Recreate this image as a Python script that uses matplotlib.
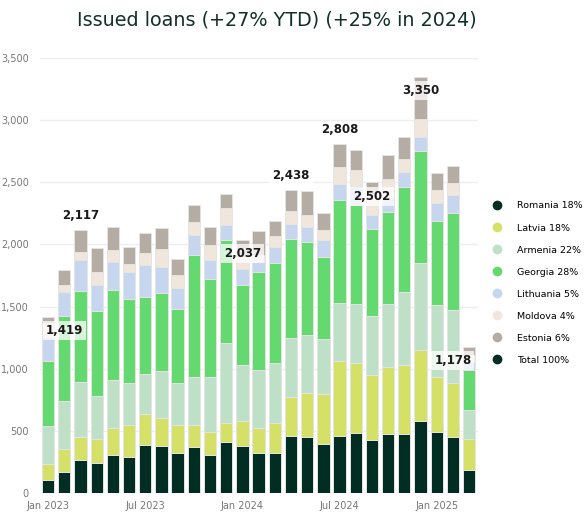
import matplotlib
matplotlib.use("Agg")
import matplotlib.pyplot as plt
from matplotlib.lines import Line2D
import numpy as np

# monthly issued loans by country (EUR thousands), Jan 2023 .. Mar 2025
months = ["Jan 2023", "Feb 2023", "Mar 2023", "Apr 2023", "May 2023", "Jun 2023",
          "Jul 2023", "Aug 2023", "Sep 2023", "Oct 2023", "Nov 2023", "Dec 2023",
          "Jan 2024", "Feb 2024", "Mar 2024", "Apr 2024", "May 2024", "Jun 2024",
          "Jul 2024", "Aug 2024", "Sep 2024", "Oct 2024", "Nov 2024", "Dec 2024",
          "Jan 2025", "Feb 2025", "Mar 2025"]
romania = [107, 166, 263, 244, 308, 292, 386, 375, 325, 367, 306, 413, 375, 322,
           319, 456, 453, 392, 459, 483, 429, 477, 472, 577, 491, 448, 185]
latvia = [129, 188, 188, 190, 212, 252, 247, 226, 219, 177, 182, 153, 202, 201,
          244, 314, 352, 405, 600, 563, 523, 534, 555, 571, 442, 437, 252]
armenia = [306, 389, 439, 349, 392, 341, 322, 383, 344, 389, 445, 641, 456, 469,
           483, 480, 464, 442, 472, 475, 472, 510, 590, 705, 582, 590, 234]
georgia = [517, 684, 738, 684, 724, 676, 625, 628, 590, 985, 786, 831, 643, 784,
           802, 796, 751, 663, 826, 796, 697, 743, 848, 901, 676, 778, 321]
lithuania = [195, 190, 244, 209, 225, 215, 252, 209, 174, 155, 158, 121, 124, 80,
             129, 121, 118, 134, 132, 150, 113, 116, 115, 113, 140, 142, 60]
moldova = [115, 59, 70, 99, 94, 69, 99, 145, 105, 110, 121, 131, 100, 62,
           88, 102, 101, 77, 134, 129, 170, 146, 105, 142, 110, 99, 55]
estonia = [50, 116, 175, 194, 183, 132, 161, 166, 123, 137, 145, 116, 137, 193,
           126, 169, 191, 140, 185, 166, 98, 191, 179, 341, 134, 134, 71]

legend_labels = ["Romania 18%", "Latvia 18%", "Armenia 22%", "Georgia 28%",
                 "Lithuania 5%", "Moldova 4%", "Estonia 6%", "Total 100%"]
tick_idx = [0, 6, 12, 18, 24]
# months that get a total label, and whether the label sits above (+1) or below (-1)
label_idx = [0, 2, 12, 15, 18, 20, 23, 26]
label_side = [-1, 1, -1, 1, 1, -1, -1, -1]

series = [romania, latvia, armenia, georgia, lithuania, moldova, estonia]
colors = ["#012d22", "#d4e066", "#bde0c6", "#64d96f", "#c5d6ee", "#f0e6dc", "#b5aca3"]
total_color = "#012d22"

fig = plt.figure(figsize=(5.88, 5.13), dpi=100)
ax = fig.add_axes([40 / 588, 1 - 493 / 513, 438 / 588, 435 / 513])

x = np.arange(len(months))
bottom = np.zeros(len(months))
for vals, c in zip(series, colors):
    ax.bar(x, vals, bottom=bottom, width=0.76, color=c,
           edgecolor="#e4e4e4", linewidth=0.7, zorder=3)
    bottom += np.array(vals)
totals = bottom

# total labels (first and last pushed inside the plot, like the original)
for i, side in zip(label_idx, label_side):
    xi = i
    if i == 0:
        xi = i + 1
    elif i == len(months) - 1:
        xi = i - 1
    ax.text(xi, totals[i] + side * 113, f"{int(round(totals[i])):,}",
            ha="center", va="center", fontsize=8.5, fontweight="bold",
            color="#1a1a1a", zorder=5,
            bbox=dict(boxstyle="square,pad=0.25", fc="white", ec="none", alpha=0.75))

ax.set_xlim(-0.5, 26.55)
ax.set_ylim(0, 3500)
ax.set_yticks(np.arange(0, 3501, 500))
ax.set_yticklabels([f"{v:,}" for v in range(0, 3501, 500)])
ax.set_xticks(tick_idx)
ax.set_xticklabels([months[i] for i in tick_idx])
ax.tick_params(axis="both", length=0, labelsize=7, labelcolor="#777777")
ax.tick_params(axis="y", pad=8)
ax.tick_params(axis="x", pad=6)
ax.grid(axis="y", color="#eeeeee", linewidth=1, zorder=0)
for s in ax.spines.values():
    s.set_visible(False)

fig.text(277 / 588, 1 - 20 / 513, "Issued loans (+27% YTD) (+25% in 2024)",
         ha="center", va="center", fontsize=13.8, color="#12302a")

handles = [Line2D([], [], linestyle="none", marker="o", markersize=7,
                  markerfacecolor=c, markeredgecolor="none")
           for c in colors + [total_color]]
fig.legend(handles, legend_labels, loc="upper left",
           bbox_to_anchor=(484 / 588, 1 - 193 / 513), frameon=False,
           fontsize=6.8, handletextpad=1.6, labelspacing=1.38, handlelength=1.0)

fig.savefig("out.png", dpi=100)
